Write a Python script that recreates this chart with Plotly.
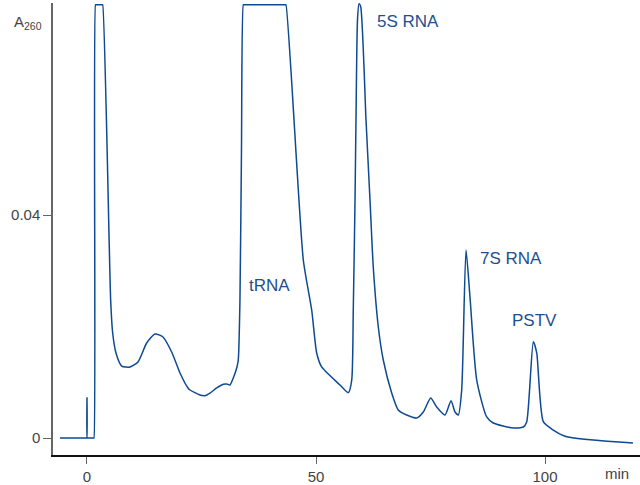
import plotly.graph_objects as go

# Chromatogram trace (time in min, absorbance A260)
time_min = [-5.9, -0.15, -0.05, 0.0, 0.05, 0.15, 1.45, 1.53, 1.86, 1.95, 3.35, 3.43, 5.17, 5.61, 6.33, 7.58, 9.39, 11.14,
            13.03, 14.85, 16.59, 18.49, 20.31, 22.05, 22.49, 24.67, 25.76, 26.86, 28.32,
            29.76, 30.5, 31.22, 31.94, 32.69, 33.03, 33.4, 33.73, 34.13, 34.25, 43.35, 43.45, 47.23,
            49.06, 50.15, 51.24, 55.24, 57.05, 57.8, 58.14, 58.52, 58.73, 59.06, 59.39,
            59.76, 60.92, 61.79, 62.5, 63.6, 64.69, 66.53, 67.97, 69.8, 71.99, 73.43,
            75.04, 76.35, 78.17, 79.48, 80.35, 81.07, 81.81, 82.75, 83.62, 85.09, 87.27,
            88.71, 93.08, 95.26, 96.0, 97.45, 98.19, 99.63, 101.81, 104.74, 119.2]
absorbance = [0.0, 0.0, 0.0, 0.0072, 0.0, 0.0, 0.0, 0.0, 0.0777, 0.0777, 0.0777, 0.0777, 0.02475, 0.01883, 0.01525, 0.01291,
              0.01274, 0.01363, 0.01704, 0.01865, 0.01812, 0.01543, 0.01166, 0.00897, 0.00861,
              0.00771, 0.00759, 0.00807, 0.00897, 0.00963, 0.00969, 0.00951, 0.01076, 0.01256,
              0.01399, 0.02475, 0.05166, 0.0777, 0.0777, 0.0777, 0.0777, 0.03193, 0.02296, 0.01525, 0.01274,
              0.0095, 0.00813, 0.0104, 0.02296, 0.04269, 0.05704, 0.075, 0.0779, 0.07737,
              0.05704, 0.04269, 0.03073, 0.01996, 0.01399, 0.00807, 0.00502, 0.00413, 0.00359,
              0.00466, 0.00717, 0.00556, 0.00413, 0.00669, 0.00466, 0.00413, 0.00861, 0.03372,
              0.02529, 0.0104, 0.00377, 0.00269, 0.00179, 0.00197, 0.00287, 0.01727, 0.01525,
              0.00292, 0.00143, 0.00023, -0.0009]

peak_labels = ["tRNA", "5S RNA", "7S RNA", "PSTV"]
label_x = [34.9, 62.9, 85.4, 92.4]
label_y = [0.0273, 0.0748, 0.0322, 0.0211]

x_ticks = [0, 50, 100]
y_ticks = [0, 0.04]
y_tick_text = ["0", "0.04"]

LINE = "#0d4a91"
TXT = "#444444"
FONT = "Liberation Sans, Arial"

fig = go.Figure()
fig.add_trace(go.Scatter(x=time_min, y=absorbance, mode="lines",
                         line=dict(color=LINE, width=1.5, shape="spline", smoothing=0.6),
                         hoverinfo="skip", showlegend=False))

for t, xx, yy in zip(peak_labels, label_x, label_y):
    fig.add_annotation(x=xx, y=yy, text=t, showarrow=False, xanchor="left",
                       yanchor="middle", font=dict(family=FONT, size=17, color="#1d4f91"))

fig.add_annotation(xref="paper", yref="paper", x=-0.043, y=0.957, text="A<sub>260</sub>",
                   showarrow=False, xanchor="center", yanchor="middle",
                   font=dict(family=FONT, size=15, color=TXT))
fig.add_annotation(xref="paper", yref="paper", x=0.985, y=0, yshift=-18, text="min",
                   showarrow=False, xanchor="right", yanchor="middle",
                   font=dict(family=FONT, size=15, color=TXT))

fig.update_layout(
    width=640, height=485,
    margin=dict(l=53, r=0, t=3, b=30, autoexpand=False),
    paper_bgcolor="white", plot_bgcolor="white",
    font=dict(family=FONT, size=15, color=TXT),
    xaxis=dict(range=[-7.42, 120.74], tickvals=x_ticks, ticks="outside", ticklen=7,
               tickcolor="#666666", showline=True, linecolor="#111111", linewidth=1.5,
               showgrid=False, zeroline=False, fixedrange=True, automargin=False),
    yaxis=dict(range=[-0.00305, 0.07803], tickvals=y_ticks, ticktext=y_tick_text,
               ticks="outside", ticklen=8, tickcolor="#666666", showline=True,
               linecolor="#666666", linewidth=1.5, showgrid=False, zeroline=False,
               fixedrange=True, automargin=False),
)

fig.write_html("out.html", config={"displayModeBar": False},
               post_script="document.body.style.margin='0';document.body.style.padding='0';")
